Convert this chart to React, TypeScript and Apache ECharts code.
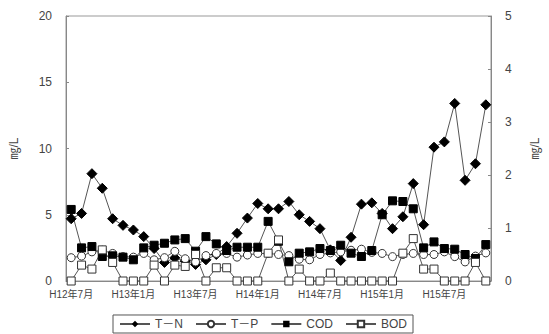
import React, { useEffect, useRef } from "react";
import * as echarts from "echarts";

const categories = [
  "H12年7月", "H12年8月", "H12年9月", "H12年10月", "H12年11月", "H12年12月",
  "H13年1月", "H13年2月", "H13年3月", "H13年4月", "H13年5月", "H13年6月",
  "H13年7月", "H13年8月", "H13年9月", "H13年10月", "H13年11月", "H13年12月",
  "H14年1月", "H14年2月", "H14年3月", "H14年4月", "H14年5月", "H14年6月",
  "H14年7月", "H14年8月", "H14年9月", "H14年10月", "H14年11月", "H14年12月",
  "H15年1月", "H15年2月", "H15年3月", "H15年4月", "H15年5月", "H15年6月",
  "H15年7月", "H15年8月", "H15年9月", "H15年10月", "H15年11月",
];

// left axis (mg/L)
const tN = [
  4.7, 5.1, 8.1, 7.0, 4.7, 4.2, 3.85, 3.35, 2.45, 1.4, 1.75, 1.5,
  1.25, 1.6, 2.0, 2.6, 3.6, 4.75, 5.85, 5.45, 5.45, 6.0, 5.0, 4.5,
  3.95, 2.35, 1.55, 3.3, 5.8, 5.9, 5.1, 3.95, 4.85, 7.35, 4.25, 10.1,
  10.5, 13.4, 7.6, 8.85, 13.3,
];
// right axis (mg/L)
const tP = [
  0.44, 0.47, 0.55, 0.58, 0.52, 0.46, 0.45, 0.52, 0.4, 0.44, 0.56, 0.42,
  0.36, 0.48, 0.52, 0.52, 0.45, 0.49, 0.52, 0.52, 0.5, 0.48, 0.41, 0.4,
  0.5, 0.53, 0.55, 0.58, 0.6, 0.54, 0.52, 0.46, 0.5, 0.52, 0.5, 0.5,
  0.55, 0.46, 0.36, 0.47, 0.53,
];
// left axis
const cod = [
  5.4, 2.5, 2.6, 1.85, 1.9, 1.8, 1.6, 2.5, 2.7, 2.85, 3.1, 3.2,
  2.25, 3.35, 2.8, 2.3, 2.55, 2.55, 2.55, 4.5, 3.0, 1.45, 2.1, 2.2,
  2.45, 2.3, 2.7, 2.1, 1.85, 2.3, 5.0, 6.05, 6.0, 5.45, 2.5, 2.95,
  2.45, 2.4, 2.0, 1.7, 2.75,
];
// left axis
const bod = [
  0, 1.2, 0.9, 2.35, 1.4, 0, 0, 0, 1.2, 0, 1.2, 1.1,
  2.0, 0, 1.0, 1.0, 0, 0, 0, 2.1, 3.1, 0, 0.9, 0,
  0, 0.6, 0, 0, 0, 0, 0, 0, 2.1, 3.2, 0.9, 0.9,
  0, 0, 0, 1.4, 0,
];

const leftTicks = { min: 0, max: 20, interval: 5 };
const rightTicks = { min: 0, max: 5, interval: 1 };
const unitName = "㎎/L";
const seriesNames = ["T－N", "T－P", "COD", "BOD"];

const FONT = "'Liberation Sans', 'Noto Sans CJK JP', sans-serif";

export default function App() {
  const ref = useRef<HTMLDivElement>(null);

  useEffect(() => {
    document.body.style.margin = "0";
    const chart = echarts.init(ref.current!, null, { renderer: "svg" });
    const lineStyle = { color: "#555", width: 1 };
    const axisCommon = {
      type: "value" as const,
      axisLine: { show: true, lineStyle: { color: "#888", width: 1 } },
      axisTick: { show: true, inside: true, length: 3, lineStyle: { color: "#888" } },
      splitLine: { show: false },
      axisLabel: { color: "#444", fontSize: 12, fontFamily: FONT, margin: 14 },
      nameLocation: "middle" as const,
      nameRotate: 90,
      nameTextStyle: { color: "#444", fontSize: 12, fontFamily: FONT },
    };
    chart.setOption({
      animation: false,
      grid: {
        left: 65,
        right: 46,
        top: 16,
        bottom: 53,
        show: true,
        borderColor: "#999",
        borderWidth: 1,
      },
      legend: {
        bottom: 1,
        left: 113,
        itemWidth: 30,
        itemHeight: 8,
        itemGap: 12,
        padding: [3, 6, 3, 6],
        borderColor: "#555",
        borderWidth: 1,
        textStyle: { color: "#444", fontSize: 12, fontFamily: FONT },
        data: seriesNames,
      },
      xAxis: {
        type: "category",
        data: categories,
        boundaryGap: true,
        axisLine: { lineStyle: { color: "#888" } },
        axisTick: { show: false },
        axisLabel: {
          interval: (i: number) => i % 6 === 0,
          color: "#444",
          fontSize: 10,
          fontFamily: FONT,
          margin: 8,
        },
      },
      yAxis: [
        { ...axisCommon, ...leftTicks, name: unitName, nameGap: 46, position: "left" },
        { ...axisCommon, ...rightTicks, name: unitName, nameGap: 38, position: "right" },
      ],
      series: [
        {
          name: seriesNames[0],
          type: "line",
          data: tN,
          yAxisIndex: 0,
          symbol: "diamond",
          symbolSize: 10,
          showAllSymbol: true,
          itemStyle: { color: "#000", borderColor: "#000" },
          lineStyle,
        },
        {
          name: seriesNames[1],
          type: "line",
          data: tP,
          yAxisIndex: 1,
          symbol: "circle",
          symbolSize: 8,
          showAllSymbol: true,
          itemStyle: { color: "#fff", borderColor: "#333", borderWidth: 1 },
          lineStyle,
        },
        {
          name: seriesNames[2],
          type: "line",
          data: cod,
          yAxisIndex: 0,
          symbol: "rect",
          symbolSize: 8,
          showAllSymbol: true,
          itemStyle: { color: "#000", borderColor: "#000" },
          lineStyle,
        },
        {
          name: seriesNames[3],
          type: "line",
          data: bod,
          yAxisIndex: 0,
          symbol: "rect",
          symbolSize: 8,
          showAllSymbol: true,
          itemStyle: { color: "#fff", borderColor: "#333", borderWidth: 1 },
          lineStyle,
        },
      ],
    });
    return () => chart.dispose();
  }, []);

  return (
    <div
      ref={ref}
      style={{ position: "absolute", left: 0, top: 0, width: 549, height: 334 }}
    />
  );
}
